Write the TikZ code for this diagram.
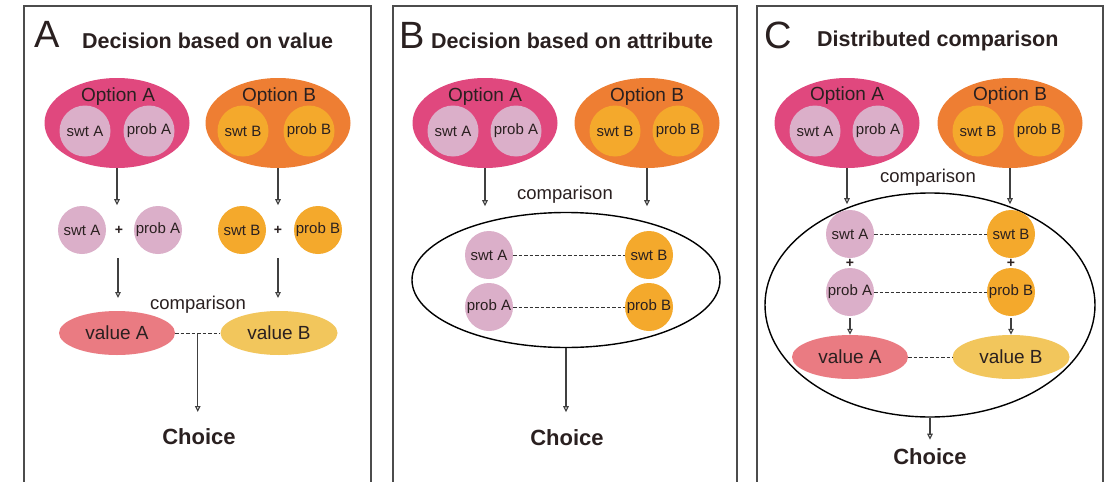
\documentclass[tikz,border=0pt]{standalone}
\usepackage{fontspec}
\setmainfont{Liberation Sans}
\usetikzlibrary{shapes.geometric,arrows.meta,calc}
\definecolor{optApink}{HTML}{E0487E}
\definecolor{optBorange}{HTML}{EE7E33}
\definecolor{mauve}{HTML}{DBAFC9}
\definecolor{amber}{HTML}{F4A92C}
\definecolor{valAcol}{HTML}{EA7B82}
\definecolor{valBcol}{HTML}{F2C65C}
\definecolor{ink}{HTML}{2A2020}
\tikzset{
  panelbox/.style={draw=black!70,line width=1.6pt},
  biglet/.style={font=\fontsize{38}{38}\selectfont,text=ink,inner sep=0pt},
  titletxt/.style={font=\bfseries\fontsize{21.5}{22}\selectfont,text=ink,anchor=west,inner sep=0pt},
  optA/.style={ellipse,fill=optApink,minimum width=145pt,minimum height=90pt,inner sep=0pt},
  optB/.style={ellipse,fill=optBorange,minimum width=145pt,minimum height=90pt,inner sep=0pt},
  optlab/.style={font=\fontsize{19}{19}\selectfont,text=ink,inner sep=0pt},
  incA/.style={circle,fill=mauve,minimum size=51pt,inner sep=0pt,font=\fontsize{15}{15}\selectfont,text=ink},
  incB/.style={circle,fill=amber,minimum size=51pt,inner sep=0pt,font=\fontsize{15}{15}\selectfont,text=ink},
  smA/.style={circle,fill=mauve,minimum size=48pt,inner sep=0pt,font=\fontsize{15}{15}\selectfont,text=ink},
  smB/.style={circle,fill=amber,minimum size=48pt,inner sep=0pt,font=\fontsize{15}{15}\selectfont,text=ink},
  plus/.style={font=\bfseries\fontsize{14}{14}\selectfont,text=ink,inner sep=1pt},
  valA/.style={ellipse,fill=valAcol,minimum width=116pt,minimum height=44pt,inner sep=0pt,font=\fontsize{19}{19}\selectfont,text=ink},
  valB/.style={ellipse,fill=valBcol,minimum width=117pt,minimum height=44pt,inner sep=0pt,font=\fontsize{19}{19}\selectfont,text=ink},
  cmp/.style={font=\fontsize{18.5}{19}\selectfont,text=ink,inner sep=0pt},
  choice/.style={font=\bfseries\fontsize{22}{22}\selectfont,text=ink,inner sep=0pt},
  big/.style={ellipse,draw=black,line width=1.4pt,inner sep=0pt},
  arr/.style={draw=black!75,line width=1.1pt,-{Triangle[open,length=6pt,width=5.5pt]}},
  dsh/.style={draw=black!80,line width=1pt,dash pattern=on 3.5pt off 2pt},
}
\begin{document}
\begin{tikzpicture}[x=1pt,y=-1pt]
\useasboundingbox (0,0) rectangle (1112,482);
\clip (0,0) rectangle (1112,482);
\fill[white] (0,0) rectangle (1112,482);

% ===== Panel A =====
\draw[panelbox] (24,6) rectangle (371,500);
\node[biglet] (LA) at (47,34) {A};
\node[titletxt] (TA) at (82,41) {Decision based on value};
\node[optA] (oA1) at (117,123) {};
\node[optlab] (oA1l) at (118,97) {Option A};
\node[incA] (sA1) at (85,131) {swt A};
\node[incA] (pA1) at (149,131) {prob A};
\node[optB] (oB1) at (278,123) {};
\node[optlab] (oB1l) at (279,97) {Option B};
\node[incB] (sB1) at (243,131) {swt B};
\node[incB] (pB1) at (309,131) {prob B};
\node[smA] (rsA1) at (82,230) {swt A};
\node[plus] (plA1) at (119,230) {+};
\node[smA] (rpA1) at (158,230) {prob A};
\node[smB] (rsB1) at (242,230) {swt B};
\node[plus] (plB1) at (278,230) {+};
\node[smB] (rpB1) at (318,230) {prob B};
\coordinate (tA1) at ($(oA1.south)+(0,37)$);
\coordinate (tB1) at ($(oB1.south)+(0,37)$);
\draw[arr] (oA1.south) -- (tA1);
\draw[arr] (oB1.south) -- (tB1);
\coordinate (uA1) at (118,258);
\coordinate (uB1) at (278,258);
\coordinate (wA1) at (118,298);
\coordinate (wB1) at (278,298);
\draw[arr] (uA1) -- (wA1);
\draw[arr] (uB1) -- (wB1);
\node[cmp] (cmp1) at (198,305) {comparison};
\node[valA] (vA1) at (117,333) {value A};
\node[valB] (vB1) at (279,333) {value B};
\draw[dsh] (vA1.east) -- (vB1.west);
\coordinate (m1) at ($(vA1.east)!0.5!(vB1.west)$);
\coordinate (e1) at ($(m1)+(0,79)$);
\draw[arr] (m1) -- (e1);
\node[choice] (ch1) at (199,437) {Choice};

% ===== Panel B =====
\draw[panelbox] (393,6) rectangle (737,500);
\node[biglet] (LB) at (412,35) {B};
\node[titletxt] (TB) at (431,41) {Decision based on attribute};
\node[optA] (oA2) at (485,123) {};
\node[optlab] (oA2l) at (485,97) {Option A};
\node[incA] (sA2) at (453,131) {swt A};
\node[incA] (pA2) at (516,131) {prob A};
\node[optB] (oB2) at (647,123) {};
\node[optlab] (oB2l) at (647,97) {Option B};
\node[incB] (sB2) at (615,131) {swt B};
\node[incB] (pB2) at (678,131) {prob B};
\coordinate (tA2) at ($(oA2.south)+(0,38)$);
\coordinate (tB2) at ($(oB2.south)+(0,38)$);
\draw[arr] (oA2.south) -- (tA2);
\draw[arr] (oB2.south) -- (tB2);
\node[cmp] (cmp2) at (565,195) {comparison};
\node[big,minimum width=308pt,minimum height=135pt] (bg2) at (566,280) {};
\node[smA] (isA2) at (489,255) {swt A};
\node[smA] (ipA2) at (489,307) {prob A};
\node[smB] (isB2) at (649,255) {swt B};
\node[smB] (ipB2) at (649,307) {prob B};
\draw[dsh] (isA2.east) -- (isB2.west);
\draw[dsh] (ipA2.east) -- (ipB2.west);
\coordinate (e2) at ($(bg2.south)+(0,64)$);
\draw[arr] (bg2.south) -- (e2);
\node[choice] (ch2) at (567,438) {Choice};

% ===== Panel C =====
\draw[panelbox] (757,6) rectangle (1103,500);
\node[biglet] (LC) at (778,35) {C};
\node[titletxt] (TC) at (817,41) {Distributed comparison};
\node[optA] (oA3) at (847,123) {};
\node[optlab] (oA3l) at (847,96) {Option A};
\node[incA] (sA3) at (815,131) {swt A};
\node[incA] (pA3) at (878,131) {prob A};
\node[optB] (oB3) at (1010,123) {};
\node[optlab] (oB3l) at (1010,96) {Option B};
\node[incB] (sB3) at (978,131) {swt B};
\node[incB] (pB3) at (1039,131) {prob B};
\node[big,minimum width=330pt,minimum height=224pt] (bg3) at (930,305) {};
\coordinate (tA3) at ($(oA3.south)+(0,36)$);
\coordinate (tB3) at ($(oB3.south)+(0,36)$);
\draw[arr] (oA3.south) -- (tA3);
\draw[arr] (oB3.south) -- (tB3);
\node[cmp] (cmp3) at (928,178) {comparison};
\node[smA] (isA3) at (850,234) {swt A};
\node[smA] (ipA3) at (850,292) {prob A};
\node[smB] (isB3) at (1011,234) {swt B};
\node[smB] (ipB3) at (1011,292) {prob B};
\node[plus] (plA3) at (850,263) {+};
\node[plus] (plB3) at (1011,263) {+};
\draw[dsh] (isA3.east) -- (isB3.west);
\draw[dsh] (ipA3.east) -- (ipB3.west);
\node[valA] (vA3) at (850,357) {value A};
\node[valB] (vB3) at (1011,357) {value B};
\draw[arr,shorten <=2pt] (ipA3.south) -- (vA3.north);
\draw[arr,shorten <=2pt] (ipB3.south) -- (vB3.north);
\draw[dsh] (vA3.east) -- (vB3.west);
\coordinate (e3) at ($(bg3.south)+(0,22)$);
\draw[arr] (bg3.south) -- (e3);
\node[choice] (ch3) at (930,457) {Choice};
\end{tikzpicture}
\end{document}
